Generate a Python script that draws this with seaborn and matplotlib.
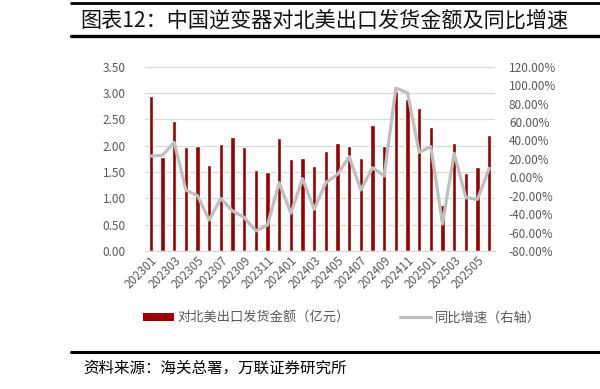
import matplotlib

matplotlib.use("Agg")

import matplotlib.pyplot as plt  # noqa: E402
import pandas as pd  # noqa: E402
import seaborn as sns  # noqa: E402
from matplotlib.lines import Line2D  # noqa: E402
from matplotlib.patches import Patch  # noqa: E402
from matplotlib.ticker import FuncFormatter  # noqa: E402

months = [f"{y}{m:02d}" for y in (2023, 2024) for m in range(1, 13)] + \
         [f"2025{m:02d}" for m in range(1, 7)]
amount = [2.95, 1.78, 2.47, 1.98, 1.99, 1.63, 2.03, 2.17, 1.97, 1.53,
          1.50, 2.14, 1.75, 1.76, 1.62, 1.89, 2.06, 2.00, 1.77, 2.39,
          2.00, 3.03, 2.89, 2.72, 2.35, 0.87, 2.06, 1.48, 1.59, 2.21]
yoy = [23.1, 23.8, 37.9, -13.8, -20.0, -46.4, -22.9, -36.6, -43.5, -58.3,
       -51.8, -5.9, -39.1, -1.5, -34.8, -5.9, 3.2, 22.4, -13.8, 10.4,
       1.4, 96.8, 91.8, 27.1, 33.2, -50.7, 26.0, -22.1, -23.9, 9.7]

BAR_COLOR = "#9B0000"
LINE_COLOR = "#BFBFBF"
TEXT_COLOR = "#595959"

sns.set_style("white")
plt.rcParams["font.family"] = ["Noto Sans CJK SC", "DejaVu Sans"]

df = pd.DataFrame({"month": months, "amount": amount, "yoy": yoy})

fig = plt.figure(figsize=(6.0, 3.89), dpi=100)
ax = fig.add_axes([0.2417, 0.3548, 0.5833, 0.4737])

sns.barplot(data=df, x="month", y="amount", color=BAR_COLOR, width=0.38,
            saturation=1, ax=ax)
ax.set_ylim(0, 3.5)
ax.set_yticks([i * 0.5 for i in range(8)])
ax.yaxis.set_major_formatter(FuncFormatter(lambda v, _: f"{v:.2f}"))
ax.grid(axis="y", color="#D9D9D9", linewidth=0.9)
ax.set_axisbelow(True)
ax.set_xlim(-0.5, len(months) - 0.5)
ax.set_xlabel("")
ax.set_ylabel("")
for side in ("top", "right", "left"):
    ax.spines[side].set_visible(False)
ax.spines["bottom"].set_color("#D9D9D9")
ax.tick_params(axis="y", length=0, labelsize=8.5, labelcolor=TEXT_COLOR, pad=14)
ax.tick_params(axis="x", length=0, labelsize=8.5, labelcolor=TEXT_COLOR, pad=2)
for i, lab in enumerate(ax.get_xticklabels()):
    lab.set_rotation(45)
    lab.set_ha("right")
    lab.set_rotation_mode("anchor")
    lab.set_visible(i % 2 == 0)

ax2 = ax.twinx()
sns.lineplot(data=df, x="month", y="yoy", color=LINE_COLOR, linewidth=2.3,
             ax=ax2, legend=False)
ax2.set_ylim(-80, 120)
ax2.set_yticks(range(-80, 121, 20))
ax2.yaxis.set_major_formatter(FuncFormatter(lambda v, _: f"{v:.2f}%"))
ax2.set_ylabel("")
ax2.set_xlim(-0.5, len(months) - 0.5)
for side in ("top", "right", "left", "bottom"):
    ax2.spines[side].set_visible(False)
ax2.tick_params(axis="y", length=0, labelsize=8.5, labelcolor=TEXT_COLOR, pad=10)

handles = [Patch(facecolor=BAR_COLOR, edgecolor="none"),
           Line2D([0], [0], color=LINE_COLOR, linewidth=2.3)]
fig.legend(handles, ["对北美出口发货金额（亿元）", "同比增速（右轴）"],
           loc="center", bbox_to_anchor=(0.57, 0.182), ncol=2, frameon=False,
           fontsize=9.5, handlelength=2.3, handleheight=0.6, columnspacing=3.8,
           handletextpad=0.3, labelcolor=TEXT_COLOR)

fig.text(0.133, 0.948, "图表12：中国逆变器对北美出口发货金额及同比增速",
         fontsize=15.2, color="#111111", va="center", ha="left")
fig.text(0.138, 0.054, "资料来源：海关总署，万联证券研究所",
         fontsize=11.2, color="#000000", va="center", ha="left", style="italic")

for y, lw in ((0.993, 2.0), (0.907, 2.4), (0.095, 2.2)):
    fig.add_artist(Line2D([0.118, 1.0], [y, y], color="#000000", linewidth=lw,
                          transform=fig.transFigure))

fig.savefig("out.png", dpi=100)
